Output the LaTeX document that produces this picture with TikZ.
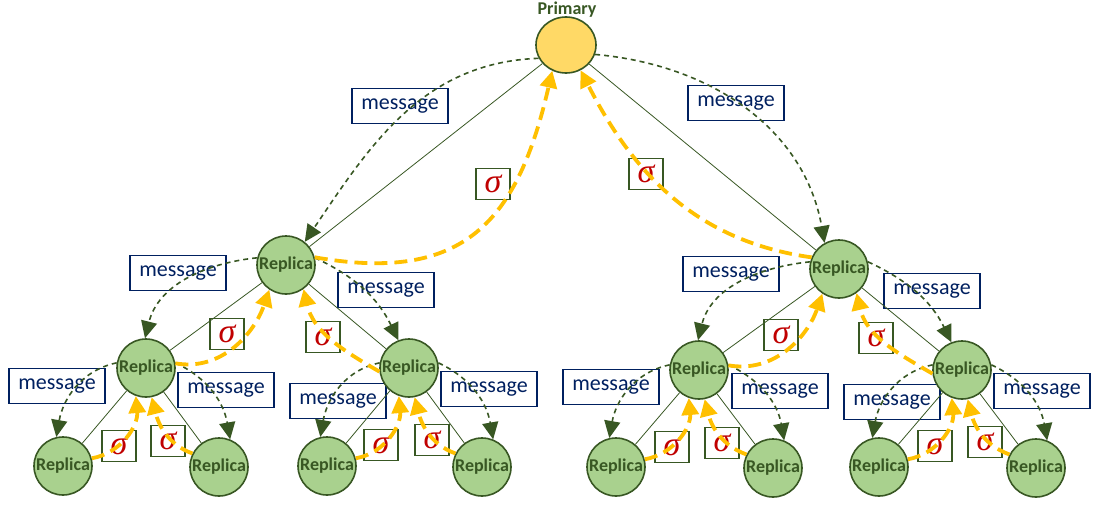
\documentclass[tikz,border=0pt]{standalone}
\usepackage{fontspec}
\setmainfont{Carlito}
\newfontfamily\sigfont{Liberation Serif}
\usetikzlibrary{arrows.meta,shapes.geometric}
\definecolor{dgreen}{HTML}{385723}
\definecolor{lgreen}{HTML}{A9D18E}
\definecolor{pyellow}{HTML}{FFD966}
\definecolor{ayellow}{HTML}{FFC000}
\definecolor{navy}{HTML}{002060}
\definecolor{sred}{HTML}{C00000}
\pgfdeclarelayer{bg}
\pgfsetlayers{bg,main}
\begin{document}
\begin{tikzpicture}[x=1pt,y=1pt,
 replica/.style={circle,draw=dgreen,line width=1.6pt,fill=lgreen,minimum size=58pt,inner sep=0pt,font=\fontsize{18}{20}\selectfont\bfseries,text=dgreen},
 primary/.style={ellipse,draw=dgreen,line width=1.6pt,fill=pyellow,minimum width=60pt,minimum height=56pt,inner sep=0pt},
 plabel/.style={font=\fontsize{18}{20}\selectfont\bfseries,text=dgreen,inner sep=0pt},
 msgbox/.style={draw=navy,line width=1.6pt,fill=white,minimum width=96pt,minimum height=35pt,inner sep=0pt,text=navy,font=\fontsize{22}{24}\selectfont},
 sigbox/.style={draw=dgreen,line width=1.6pt,fill=white,minimum width=34pt,minimum height=31pt,inner sep=0pt,text=sred,font=\sigfont\itshape\fontsize{34}{36}\selectfont},
 edge/.style={draw=dgreen,line width=0.8pt},
 msg/.style={draw=dgreen,line width=1.6pt,dash pattern=on 5pt off 4pt,-{Triangle[length=17pt,width=16pt]}},
 sig/.style={draw=ayellow,line width=3.8pt,dash pattern=on 13pt off 7pt,-{Triangle[length=17pt,width=17pt]}}
]
\useasboundingbox (0,0) rectangle (1095,-504);

% nodes
\node[primary] (P) at (566,-45) {};
\node[plabel,anchor=base] (Pl) at (567,-14) {Primary};

\node[replica] (A)   at (286,-265) {Replica};
\node[replica] (A1)  at (146,-368) {Replica};
\node[replica] (A2)  at (409,-368) {Replica};
\node[replica] (A11) at (63,-466)  {Replica};
\node[replica] (A12) at (219,-467) {Replica};
\node[replica] (A21) at (327,-466) {Replica};
\node[replica] (A22) at (482,-467) {Replica};

\node[replica] (B)   at (839,-269) {Replica};
\node[replica] (B1)  at (699,-370) {Replica};
\node[replica] (B2)  at (962,-370) {Replica};
\node[replica] (B11) at (616,-467) {Replica};
\node[replica] (B12) at (773,-468) {Replica};
\node[replica] (B21) at (879,-467) {Replica};
\node[replica] (B22) at (1036,-468) {Replica};

\begin{pgfonlayer}{bg}
\node[msgbox] (mPA) at (400,-106) {message};
\node[msgbox] (mPB) at (736,-103) {message};
\node[msgbox] (mAA1) at (178,-273) {message};
\node[msgbox] (mAA2) at (386,-290) {message};
\node[msgbox] (mA1A11) at (57,-386) {message};
\node[msgbox] (mA1A12) at (226,-390) {message};
\node[msgbox] (mA2A21) at (338,-401) {message};
\node[msgbox] (mA2A22) at (489,-389) {message};
\node[msgbox] (mBB1) at (731,-274) {message};
\node[msgbox] (mBB2) at (932,-291) {message};
\node[msgbox] (mB1B11) at (611,-387) {message};
\node[msgbox] (mB1B12) at (780,-391) {message};
\node[msgbox] (mB2B21) at (892,-402) {message};
\node[msgbox] (mB2B22) at (1042,-391) {message};

\node[sigbox] (sAP) at (493,-184) {σ};
\node[sigbox] (sBP) at (646,-174) {σ};
\node[sigbox] (sA1A) at (227,-334) {σ};
\node[sigbox] (sA2A) at (323,-337) {σ};
\node[sigbox] (sA11) at (119,-446) {σ};
\node[sigbox] (sA12) at (168,-441) {σ};
\node[sigbox] (sA21) at (381,-445) {σ};
\node[sigbox] (sA22) at (432,-440) {σ};
\node[sigbox] (sB1B) at (781,-335) {σ};
\node[sigbox] (sB2B) at (876,-338) {σ};
\node[sigbox] (sB11) at (672,-447) {σ};
\node[sigbox] (sB12) at (722,-443) {σ};
\node[sigbox] (sB21) at (935,-446) {σ};
\node[sigbox] (sB22) at (985,-442) {σ};
\end{pgfonlayer}

% tree edges
\draw[edge] (P) -- (A);
\draw[edge] (P) -- (B);
\foreach \r in {A,B}{
  \draw[edge] (\r) -- (\r1);
  \draw[edge] (\r) -- (\r2);
  \draw[edge] (\r1) -- (\r11);
  \draw[edge] (\r1) -- (\r12);
  \draw[edge] (\r2) -- (\r21);
  \draw[edge] (\r2) -- (\r22);
}

% message arrows
\draw[msg] (P.206) to[out=182,in=56] (A.51);
\draw[msg] (P.-18) to[out=-5,in=100] (B.119);
\foreach \r in {A,B}{
  \draw[msg] (\r.166) to[out=186,in=76] (\r1.92);
  \draw[msg] (\r.14) to[out=-25,in=116] (\r2.111);
  \draw[msg] (\r1.170) to[out=192,in=80] (\r11.103);
  \draw[msg] (\r1.10) to[out=-25,in=100] (\r12.68);
  \draw[msg] (\r2.170) to[out=192,in=80] (\r21.103);
  \draw[msg] (\r2.10) to[out=-25,in=100] (\r22.68);
}

% signature arrows
\draw[sig] (A.15) to[out=-10,in=-103,looseness=1.3] (P.242);
\draw[sig] (B.157) to[out=172,in=-63] (P.300);
\foreach \r in {A,B}{
  \draw[sig] (\r1.9) to[out=-10,in=-109] (\r.236);
  \draw[sig] (\r2.187) to[out=150,in=-77] (\r.306);
  \draw[sig] (\r11.15) to[out=10,in=-85] (\r1.250);
  \draw[sig] (\r12.153) to[out=160,in=-76] (\r1.281);
  \draw[sig] (\r21.15) to[out=10,in=-85] (\r2.250);
  \draw[sig] (\r22.153) to[out=160,in=-76] (\r2.281);
}
\end{tikzpicture}
\end{document}
